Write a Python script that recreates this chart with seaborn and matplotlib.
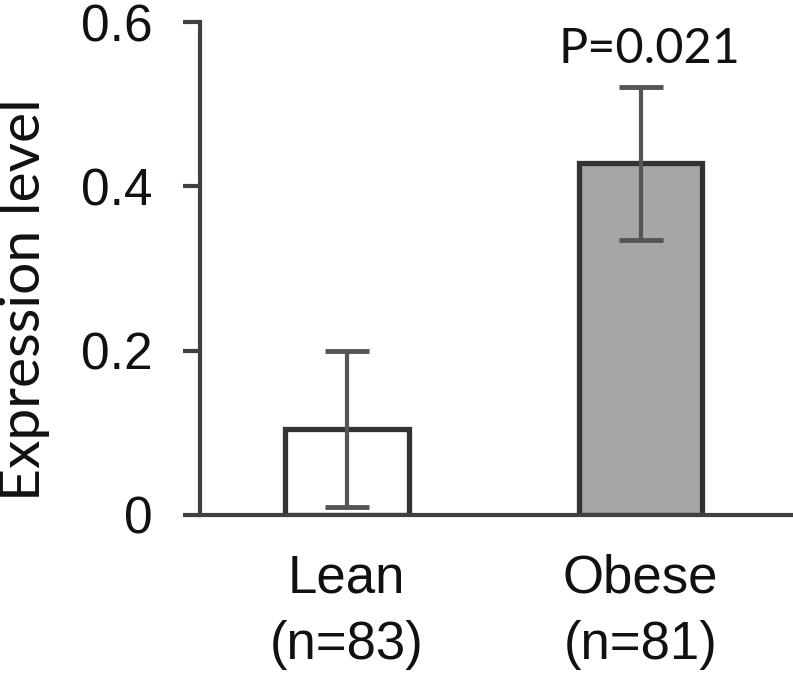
import numpy as np
import pandas as pd
import matplotlib
matplotlib.use('Agg')
import matplotlib.pyplot as plt
import seaborn as sns

# values
groups = ['Lean\n(n=83)', 'Obese\n(n=81)']
means = [0.105, 0.428]
err_low = [0.095, 0.093]
err_high = [0.095, 0.093]
bar_colors = ['#ffffff', '#a6a6a6']
yticks = [0, 0.2, 0.4, 0.6]
ytick_labels = ['0', '0.2', '0.4', '0.6']
p_text = 'P=0.021'

sns.set_style('white')
plt.rcParams['font.family'] = ['Liberation Sans', 'DejaVu Sans']

df = pd.DataFrame({'group': groups, 'mean': means})

fig = plt.figure(figsize=(7.93, 6.74), dpi=100)
ax = fig.add_axes([0.252, 0.236, 0.745, 0.731])

sns.barplot(data=df, x='group', y='mean', hue='group', palette=bar_colors,
            edgecolor='#333333', linewidth=3.8, width=0.42, legend=False,
            errorbar=None, ax=ax)

ax.errorbar(np.arange(len(groups)), means, yerr=[err_low, err_high],
            fmt='none', ecolor='#555555', elinewidth=3, capsize=16,
            capthick=3.5, zorder=5)

# p-value annotation above the obese bar
ax.text(1.03, 0.55, p_text, ha='center', va='baseline', fontsize=35,
        family=['Lato', 'DejaVu Sans'], color='#111111')

ax.set_xlim(-0.5, 1.51)
ax.set_ylim(0, 0.6)
ax.set_yticks(yticks)
ax.set_yticklabels(ytick_labels, fontsize=37)
ax.set_xticks(range(len(groups)))
ax.set_xticklabels(groups, fontsize=38, linespacing=1.42)
ax.set_xlabel('')
ax.set_ylabel('')
fig.text(25 / 793, 1 - 300 / 674, 'Expression level', rotation=90,
         ha='center', va='center', fontsize=41,
         family=['Lato', 'DejaVu Sans'], color='#111111')

for s in ['top', 'right']:
    ax.spines[s].set_visible(False)
for s in ['left', 'bottom']:
    ax.spines[s].set_color('#404040')
    ax.spines[s].set_linewidth(3)
ax.tick_params(axis='y', direction='out', length=12, width=3,
               color='#404040', pad=22, left=True, labelcolor='#111111')
ax.tick_params(axis='x', length=0, pad=28, labelcolor='#111111')

fig.savefig('out.png', dpi=100)
